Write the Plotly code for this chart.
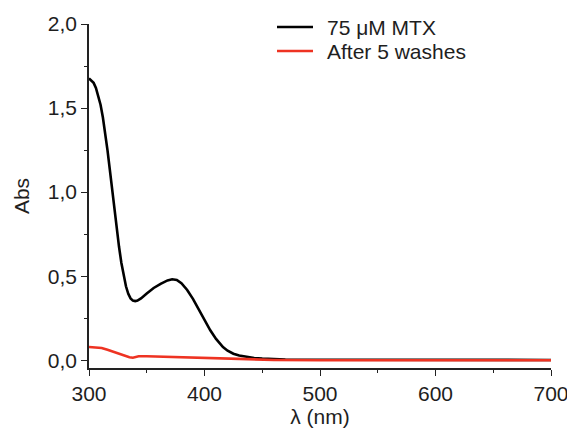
import plotly.graph_objects as go

# Data
mtx_wavelength = [300, 302, 304, 306, 308, 310, 312, 314, 316, 318, 320, 322, 324, 326, 328,
                  330, 332, 334, 336, 338, 340, 342, 345, 350, 356, 362, 368, 372, 376, 380,
                  385, 390, 395, 400, 405, 410, 416, 420, 425, 430, 436, 443, 450, 460, 470,
                  500, 550, 600, 650, 700]
mtx_abs = [1.677, 1.665, 1.650, 1.620, 1.575, 1.520, 1.445, 1.355, 1.250, 1.135, 1.015, 0.895,
           0.780, 0.675, 0.580, 0.500, 0.440, 0.395, 0.368, 0.355, 0.352, 0.355, 0.368, 0.397,
           0.430, 0.455, 0.475, 0.482, 0.478, 0.458, 0.418, 0.365, 0.302, 0.238, 0.178, 0.127,
           0.078, 0.057, 0.039, 0.028, 0.019, 0.013, 0.010, 0.007, 0.005, 0.003, 0.002, 0.002,
           0.003, 0.002]

wash_wavelength = [300, 305, 311, 316, 321, 326, 330, 335, 338, 340, 343, 350, 360, 380,
                   400, 410, 420, 440, 460, 500, 600, 700]
wash_abs = [0.079, 0.078, 0.073, 0.063, 0.050, 0.038, 0.028, 0.018, 0.015, 0.018, 0.024,
            0.024, 0.022, 0.019, 0.014, 0.010, 0.007, 0.004, 0.002, 0.0, 0.0, 0.0]

series_names = ["75 μM MTX", "After 5 washes"]
series_colors = ["#000000", "#ee3322"]
x_ticks = [300, 400, 500, 600, 700]
y_ticks = [0.0, 0.5, 1.0, 1.5, 2.0]

FONT = "Liberation Sans, Arial, sans-serif"
TXT = "#1e1e1e"
FS = 21

fig = go.Figure()
fig.add_trace(go.Scatter(x=mtx_wavelength, y=mtx_abs, mode="lines", name=series_names[0],
                         line=dict(color=series_colors[0], width=2.6)))
fig.add_trace(go.Scatter(x=wash_wavelength, y=wash_abs, mode="lines", name=series_names[1],
                         line=dict(color=series_colors[1], width=2.6)))

axis_common = dict(showgrid=False, zeroline=False, showline=True, linecolor="#222222",
                   linewidth=1.5, ticks="outside", ticklen=6, tickwidth=1.3, automargin=False,
                   tickcolor="#222222", tickfont=dict(family=FONT, size=FS, color=TXT))

fig.update_xaxes(range=[300, 700], tickvals=x_ticks,
                 title=dict(text="λ (nm)", font=dict(family=FONT, size=FS, color=TXT), standoff=0),
                 minor=dict(dtick=50, ticks="outside", ticklen=3, tickcolor="#222222", tickwidth=1.2),
                 **axis_common)
fig.update_yaxes(range=[-0.046, 2.0], tickvals=y_ticks, tickformat=".1f",
                 title=dict(text="Abs", font=dict(family=FONT, size=FS, color=TXT), standoff=12),
                 minor=dict(dtick=0.25, ticks="outside", ticklen=3, tickcolor="#222222", tickwidth=1.2),
                 **axis_common)

# The page body has an 8px margin, so the figure is sized/offset to compensate
OFF = 8
W, H = 575 - OFF, 428 - OFF
L, T = 89 - OFF, 24 - OFF
R = W - (551 - OFF)
B = H - (368 - OFF)
pw, ph = W - L - R, H - T - B
def px(x):
    return (x - OFF - L) / pw
def py(y):
    return (H - B - (y - OFF)) / ph

# Legend drawn as line samples + text at positions matched to the reference
legend_rows_y = [27, 51]
for name, color, yy in zip(series_names, series_colors, legend_rows_y):
    fig.add_shape(type="line", xref="paper", yref="paper",
                  x0=px(277), x1=px(313), y0=py(yy), y1=py(yy),
                  line=dict(color=color, width=2.6))
    fig.add_annotation(xref="paper", yref="paper", x=px(325), y=py(yy), text=name,
                       showarrow=False, xanchor="left", yanchor="middle",
                       font=dict(family=FONT, size=FS, color=TXT))

fig.update_layout(
    width=W, height=H,
    margin=dict(l=L, r=R, t=T, b=B, autoexpand=False),
    paper_bgcolor="white", plot_bgcolor="white",
    separators=", ",
    font=dict(family=FONT, size=FS, color=TXT),
    showlegend=False,
)

fig.write_html("out.html")
